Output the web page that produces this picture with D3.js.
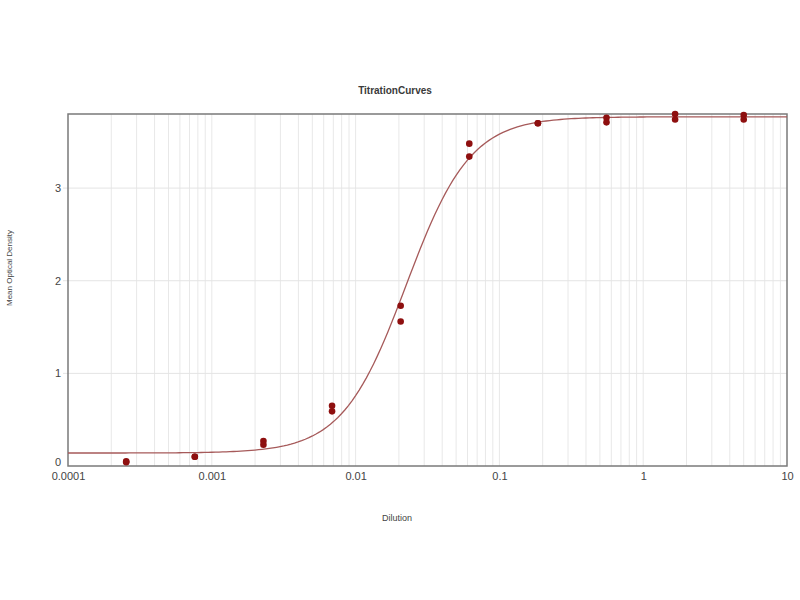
<!DOCTYPE html>
<html><head><meta charset="utf-8">
<script src="https://cdn.jsdelivr.net/npm/d3@7"></script>
<style>body{margin:0;background:#fff;}svg{display:block;font-family:"Liberation Sans",Arial,sans-serif;}</style>
</head><body>
<script>
// Data
const dilutions = [5, 1.667, 0.5556, 0.1852, 0.06173, 0.02058, 0.006859, 0.002286, 0.000762, 0.000254];
const replicate1 = [3.79, 3.80, 3.76, 3.70, 3.48, 1.73, 0.65, 0.27, 0.10, 0.05];
const replicate2 = [3.74, 3.74, 3.71, 3.70, 3.34, 1.56, 0.59, 0.23, 0.10, 0.04];
// 4PL fit parameters
const fitBottom = 0.14, fitTop = 3.77, fitEC50 = 0.0225, fitHill = 1.95;
const xTickValues = [0.0001, 0.001, 0.01, 0.1, 1, 10];
const xTickLabels = ["0.0001", "0.001", "0.01", "0.1", "1", "10"];
const yTickValues = [0, 1, 2, 3];
const titleText = "TitrationCurves", xLabel = "Dilution", yLabel = "Mean Optical Density";

const W = 800, H = 600;
const m = {left: 68, right: 13, top: 114, bottom: 134};
const svg = d3.select("body").append("svg").attr("width", W).attr("height", H);
const x = d3.scaleLog().domain([0.0001, 10]).range([m.left, W - m.right]);
const y = d3.scaleLinear().domain([0, 3.8]).range([H - m.bottom, m.top]);

// minor/major vertical grid
const gridX = [];
for (let e = -4; e < 1; e++) for (let k = 1; k <= 9; k++) gridX.push(k * Math.pow(10, e));
svg.append("g").selectAll("line").data(gridX.filter(v => v > 0.0001 && v < 10)).join("line")
  .attr("x1", d => x(d)).attr("x2", d => x(d)).attr("y1", y(3.8)).attr("y2", y(0))
  .attr("stroke", "#e8e8e8").attr("stroke-width", 1);
svg.append("g").selectAll("line").data(yTickValues.filter(v => v > 0)).join("line")
  .attr("x1", x(0.0001) - 5).attr("x2", x(10)).attr("y1", d => y(d)).attr("y2", d => y(d))
  .attr("stroke", "#e4e4e4").attr("stroke-width", 1);

// frame
svg.append("rect").attr("x", x(0.0001)).attr("y", y(3.8)).attr("width", x(10) - x(0.0001)).attr("height", y(0) - y(3.8))
  .attr("fill", "none").attr("stroke", "#7a7a7a").attr("stroke-width", 1.5);

// axes labels via d3 axes
const xAxis = d3.axisBottom(x).tickValues(xTickValues).tickFormat((d, i) => xTickLabels[i]).tickSize(0).tickPadding(6);
svg.append("g").attr("transform", `translate(0,${y(0)})`).call(xAxis)
  .call(g => g.select(".domain").remove())
  .call(g => g.selectAll("text").attr("fill", "#444").attr("font-size", 11).attr("font-family", "Liberation Sans, Arial, sans-serif"));
const yAxis = d3.axisLeft(y).tickValues(yTickValues).tickFormat(d3.format("d")).tickSize(0).tickPadding(7);
svg.append("g").attr("transform", `translate(${x(0.0001)},0)`).call(yAxis)
  .call(g => g.select(".domain").remove())
  .call(g => g.selectAll("text").attr("fill", "#444").attr("font-size", 11).attr("font-family", "Liberation Sans, Arial, sans-serif"))
  .call(g => g.selectAll(".tick").filter(d => d === 0).select("text").attr("dy", "-0.05em"));

// fitted curve
const f = v => fitBottom + (fitTop - fitBottom) / (1 + Math.pow(fitEC50 / v, fitHill));
const curveX = d3.range(0, 201).map(i => Math.pow(10, -4 + 5 * i / 200));
svg.append("path").datum(curveX)
  .attr("d", d3.line().x(d => x(d)).y(d => y(f(d))).curve(d3.curveLinear))
  .attr("fill", "none").attr("stroke", "#a65a5a").attr("stroke-width", 1.3);

// points
const pts = [];
dilutions.forEach((d, i) => { pts.push([d, replicate1[i]]); pts.push([d, replicate2[i]]); });
svg.append("g").selectAll("circle").data(pts).join("circle")
  .attr("cx", d => x(d[0])).attr("cy", d => y(d[1])).attr("r", 3.3).attr("fill", "#8e0f0f");

// titles
svg.append("text").attr("x", 395).attr("y", 94).attr("text-anchor", "middle")
  .attr("font-size", 10).attr("font-weight", "bold").attr("fill", "#3a3a3a").text(titleText);
svg.append("text").attr("x", 397).attr("y", 521).attr("text-anchor", "middle")
  .attr("font-size", 9).attr("fill", "#444").text(xLabel);
svg.append("text").attr("transform", "translate(12,268) rotate(-90)").attr("text-anchor", "middle")
  .attr("font-size", 8).attr("fill", "#444").text(yLabel);
</script>
</body></html>
